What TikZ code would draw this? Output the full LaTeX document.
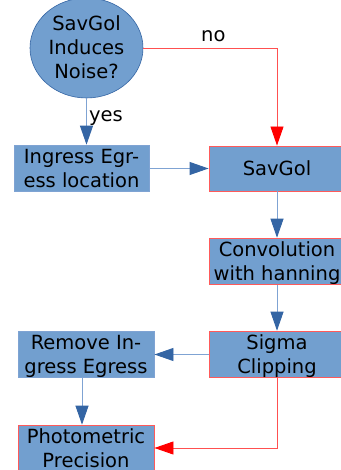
\documentclass[tikz,border=0pt]{standalone}
\usepackage{fontspec}
\setmainfont{DejaVu Sans}
\usetikzlibrary{arrows.meta,shapes.geometric}
\definecolor{boxfill}{HTML}{729FCF}
\definecolor{darkblue}{HTML}{3465A4}
\definecolor{lineblue}{HTML}{7FA3D3}
\definecolor{boxred}{HTML}{FF5A5A}
\definecolor{linered}{HTML}{FF5050}
\definecolor{tipred}{HTML}{FF0000}
% strut with the font's ascent and descent, so lines sit as in a text frame
\newcommand{\fstrut}{\rule[-4.6pt]{0pt}{22.7pt}}
\begin{document}
\begin{tikzpicture}[x=1pt,y=1pt,
  every node/.style={font=\fontsize{19.5}{24}\selectfont, align=center, inner sep=0pt},
  stepbox/.style={rectangle, fill=boxfill, minimum width=136pt, minimum height=45pt, line width=0.9pt},
  redbox/.style={stepbox, draw=boxred},
  bluebox/.style={stepbox, draw=lineblue},
  blueflow/.style={draw=lineblue, line width=0.9pt, -{Triangle[length=19pt,width=13pt,color=darkblue]}},
  redflow/.style={draw=linered, line width=0.9pt, -{Triangle[length=19pt,width=13pt,color=tipred]}}
]
\useasboundingbox (0,0) rectangle (340,470);
\fill[white] (0,0) rectangle (340,470);

% decision
\node[ellipse, fill=boxfill, draw=darkblue, line width=0.6pt,
      minimum width=113pt, minimum height=92pt] (dec) at (86.5,422)
      {\fstrut SavGol\\Induces\\\fstrut Noise?};

% processing steps
\node[bluebox, minimum width=135pt] (ing) at (81.5,301.5) {\fstrut Ingress Egr-\\\fstrut ess location};
\node[redbox] (sav) at (277,301.5) {\fstrut SavGol};
\node[redbox] (conv) at (277,208.5) {\fstrut Convolution\\\fstrut with hanning};
\node[redbox] (sig) at (277,115.5) {\fstrut Sigma\\\fstrut Clipping};
\node[bluebox] (rem) at (86,115.5) {\fstrut Remove In-\\\fstrut gress Egress};
\node[redbox] (pp) at (86,21.5) {\fstrut Photometric\\\fstrut Precision};

% connectors
\coordinate (noturn) at (277,422);
\coordinate (clipturn) at (277,22);
\draw[redflow] (dec.east) -- (noturn) -- (sav.north);
\node[anchor=base west] (nolab) at (201,428) {no};
\draw[blueflow] (dec.south) -- (dec.south |- ing.north);
\node[anchor=base west] (yeslab) at (89,348) {yes};
\draw[blueflow] (ing.east |- sav.west) -- (sav.west);
\draw[blueflow] (sav.south) -- (conv.north);
\draw[blueflow] (conv.south) -- (sig.north);
\draw[blueflow] (sig.west) -- (rem.east);
\draw[blueflow] ([xshift=-4pt]rem.south) -- ([xshift=-4pt]pp.north);
\draw[redflow] (sig.south) -- (clipturn) -- (pp.east |- clipturn);
\end{tikzpicture}
\end{document}
